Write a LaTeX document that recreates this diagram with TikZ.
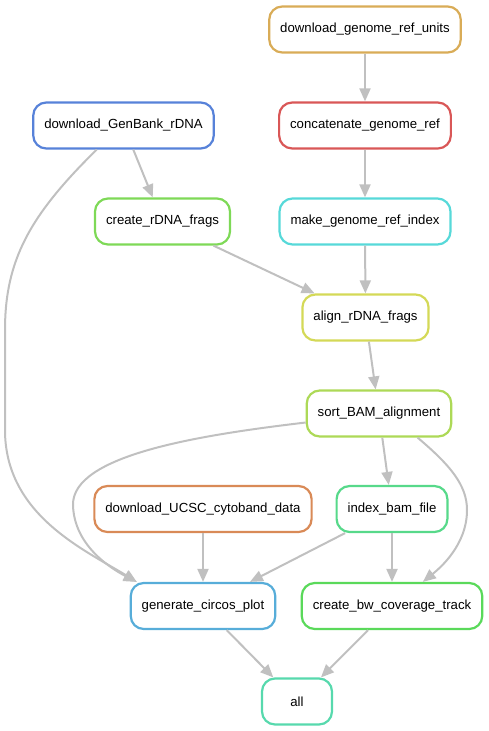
\documentclass[tikz,border=0pt]{standalone}
\usepackage{fontspec}
\setmainfont{Liberation Sans}
\usetikzlibrary{arrows.meta}

\definecolor{cunits}{HTML}{D9AC57}
\definecolor{cconcat}{HTML}{D95757}
\definecolor{cgenbank}{HTML}{5782D9}
\definecolor{cfrags}{HTML}{7ED957}
\definecolor{cindex}{HTML}{57D9D9}
\definecolor{calign}{HTML}{D4D957}
\definecolor{csort}{HTML}{ADD957}
\definecolor{cucsc}{HTML}{D98A57}
\definecolor{cbam}{HTML}{57D98A}
\definecolor{ccircos}{HTML}{57ADD9}
\definecolor{cbw}{HTML}{5AD95A}
\definecolor{call}{HTML}{57D9AD}
\definecolor{edgegray}{HTML}{C0C0C0}

\begin{document}
\begin{tikzpicture}[x=1pt, y=-1pt,
        rule/.style={draw=#1, line width=2.2pt, rounded corners=13pt, fill=white,
            inner xsep=11pt, minimum height=46pt, minimum width=70pt,
            font=\fontsize{13.2}{15}\selectfont},
        edge/.style={draw=edgegray, line width=2pt,
            -{Triangle[length=13pt, width=11pt]}}]
        \useasboundingbox (0,0) rectangle (488,731);

        % rules
        \node[rule=cunits] (units) at (365,29.5) {download\_genome\_ref\_units};
        \node[rule=cgenbank] (genbank) at (123.5,125.5) {download\_GenBank\_rDNA};
        \node[rule=cconcat] (concat) at (365,125.5) {concatenate\_genome\_ref};
        \node[rule=cfrags] (frags) at (162.5,221.5) {create\_rDNA\_frags};
        \node[rule=cindex] (refindex) at (365,221.5) {make\_genome\_ref\_index};
        \node[rule=calign] (align) at (365.5,317.5) {align\_rDNA\_frags};
        \node[rule=csort] (sort) at (379,413.5) {sort\_BAM\_alignment};
        \node[rule=cucsc] (ucsc) at (203,509) {download\_UCSC\_cytoband\_data};
        \node[rule=cbam] (bamindex) at (392,509) {index\_bam\_file};
        \node[rule=ccircos] (circos) at (203,606) {generate\_circos\_plot};
        \node[rule=cbw] (bw) at (392,606) {create\_bw\_coverage\_track};
        \node[rule=call] (all) at (297,701.5) {all};

        % straight edges
        \draw[edge] (units) -- (concat);
        \draw[edge] (concat) -- (refindex);
        \draw[edge] (refindex) -- (align);
        \draw[edge] (genbank) -- (frags);
        \draw[edge] (frags) -- (align);
        \draw[edge] (align) -- (sort);
        \draw[edge] (sort) -- (bamindex);
        \draw[edge] (ucsc) -- (circos);
        \draw[edge] (bamindex) -- (circos);
        \draw[edge] (bamindex) -- (bw);
        \draw[edge] (circos) -- (all);
        \draw[edge] (bw) -- (all);

        % curved edges
        \draw[edge] (genbank.222) .. controls (30,215) and (5,260) .. (5,330)
            -- (5,430) .. controls (5,515) and (85,550) .. (circos.160);
        \draw[edge] (sort.187) .. controls (200,435) and (72,455) .. (73,505)
            .. controls (74,545) and (110,568) .. (circos.160);
        \draw[edge] (sort.328) .. controls (450,465) and (467,485) .. (467,510)
            .. controls (467,545) and (440,568) .. (bw.38);
    \end{tikzpicture}
\end{document}
